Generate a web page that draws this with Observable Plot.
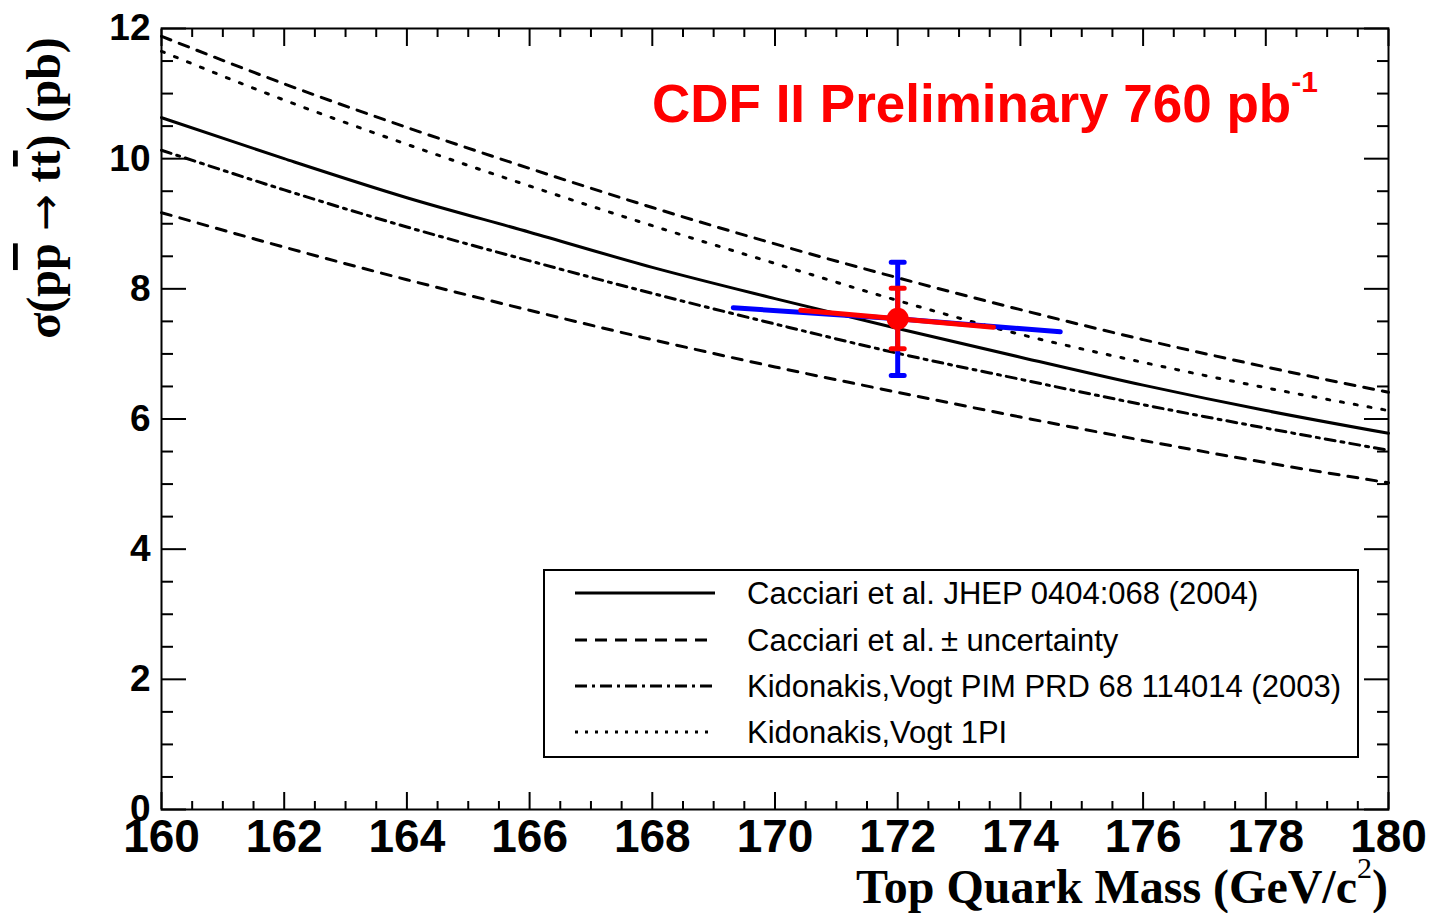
<!DOCTYPE html>
<html><head><meta charset="utf-8">
<script src="https://cdn.jsdelivr.net/npm/d3@7"></script>
<script src="https://cdn.jsdelivr.net/npm/@observablehq/plot@0.6"></script>
<style>html,body{margin:0;padding:0;background:#fff;} #chart svg{display:block;overflow:visible;}</style>
</head><body><div id="chart"></div>
<script>
// ---- data ----
const mass = [160, 162, 164, 166, 168, 170, 172, 174, 176, 178, 180];
const cacciari     = [10.63, 10.00, 9.40, 8.87, 8.33, 7.85, 7.39, 6.95, 6.52, 6.13, 5.78];
const cacciariUp   = [11.88, 11.15, 10.48, 9.85, 9.25, 8.69, 8.17, 7.68, 7.22, 6.80, 6.41];
const cacciariDown = [9.17, 8.64, 8.14, 7.67, 7.22, 6.80, 6.41, 6.03, 5.67, 5.33, 5.02];
const kidonakisPIM = [10.13, 9.52, 8.95, 8.43, 7.93, 7.46, 7.01, 6.61, 6.22, 5.86, 5.52];
const kidonakis1PI = [11.65, 10.90, 10.22, 9.58, 8.97, 8.39, 7.82, 7.30, 6.87, 6.48, 6.13];

const legendLabels = [
  "Cacciari et al. JHEP 0404:068 (2004)",
  "Cacciari et al.\u2009\u00b1 uncertainty",
  "Kidonakis,Vogt PIM PRD 68 114014 (2003)",
  "Kidonakis,Vogt 1PI"
];

// measurement
const measMass = [172];
const measXsec = [7.54];
const statXsecLo = [7.08], statXsecHi = [8.01];
const totXsecLo = [6.67], totXsecHi = [8.41];
const statMassBar = [170.42, 172, 173.56], statMassXsec = [7.67, 7.54, 7.41];
const totMassBar = [169.32, 172, 174.65], totMassXsec = [7.71, 7.54, 7.34];

// ticks
const xMajor = [160, 162, 164, 166, 168, 170, 172, 174, 176, 178, 180];
const yMajor = [0, 2, 4, 6, 8, 10, 12];
const xMinor = d3.range(160, 180.001, 0.5).filter(v => v % 2 !== 0);
const yMinor = d3.range(0, 12.001, 0.5).filter(v => v % 2 !== 0);

// ---- build tables ----
const toRows = ys => mass.map((m, i) => ({m, s: ys[i]}));
const meas = measMass.map((m, i) => ({m, s: measXsec[i], sLo: statXsecLo[i], sHi: statXsecHi[i], tLo: totXsecLo[i], tHi: totXsecHi[i]}));
const statH = statMassBar.map((m, i) => ({m, s: statMassXsec[i]}));
const totH = totMassBar.map((m, i) => ({m, s: totMassXsec[i]}));

const styles = [
  {data: cacciari, dash: null},
  {data: cacciariUp, dash: "10 9"},
  {data: cacciariDown, dash: "10 9"},
  {data: kidonakisPIM, dash: "10 6 3 6"},
  {data: kidonakis1PI, dash: "3 11"}
];
const legendDash = [null, "12 8", "12 5 3 5", "3 7"];

const BLUE = "#0000ff", RED = "#ff0000";

const chart = Plot.plot({
  width: 1433, height: 913,
  marginLeft: 161, marginRight: 45, marginTop: 28, marginBottom: 104,
  x: {domain: [160, 180], label: null},
  y: {domain: [0, 12], label: null},
  style: {background: "white", fontFamily: "Liberation Sans, Arial, sans-serif", color: "black"},
  marks: [
    // curves
    ...styles.map(st => Plot.line(toRows(st.data), {x: "m", y: "s", stroke: "black", strokeWidth: 3, strokeDasharray: st.dash, curve: "monotone-x"})),
    // total error bars (blue)
    Plot.line(totH, {x: "m", y: "s", stroke: BLUE, strokeWidth: 5}),
    Plot.ruleX(meas, {x: "m", y1: "tLo", y2: "tHi", stroke: BLUE, strokeWidth: 5}),
    Plot.vector(meas, {x: "m", y: "tHi", length: 13, rotate: 90, anchor: "middle", shape: "spike", stroke: BLUE, strokeWidth: 5, r: 0}),
    Plot.vector(meas, {x: "m", y: "tLo", length: 13, rotate: 90, anchor: "middle", shape: "spike", stroke: BLUE, strokeWidth: 5, r: 0}),
    // stat error bars (red)
    Plot.line(statH, {x: "m", y: "s", stroke: RED, strokeWidth: 5}),
    Plot.ruleX(meas, {x: "m", y1: "sLo", y2: "sHi", stroke: RED, strokeWidth: 5}),
    Plot.vector(meas, {x: "m", y: "sHi", length: 13, rotate: 90, anchor: "middle", shape: "spike", stroke: RED, strokeWidth: 5, r: 0}),
    Plot.vector(meas, {x: "m", y: "sLo", length: 13, rotate: 90, anchor: "middle", shape: "spike", stroke: RED, strokeWidth: 5, r: 0}),
    Plot.dot(meas, {x: "m", y: "s", r: 11, fill: RED, stroke: "none"}),
    // frame
    Plot.frame({stroke: "black", strokeWidth: 2}),
    // inward ticks, all four sides
    Plot.axisX({anchor: "bottom", ticks: xMajor, tickSize: -17, fill: "none", stroke: "black", strokeWidth: 2}),
    Plot.axisX({anchor: "bottom", ticks: xMinor, tickSize: -8, fill: "none", stroke: "black", strokeWidth: 2}),
    Plot.axisX({anchor: "top", ticks: xMajor, tickSize: -17, fill: "none", stroke: "black", strokeWidth: 2}),
    Plot.axisX({anchor: "top", ticks: xMinor, tickSize: -8, fill: "none", stroke: "black", strokeWidth: 2}),
    Plot.axisY({anchor: "left", ticks: yMajor, tickSize: -25, fill: "none", stroke: "black", strokeWidth: 2}),
    Plot.axisY({anchor: "left", ticks: yMinor, tickSize: -12, fill: "none", stroke: "black", strokeWidth: 2}),
    Plot.axisY({anchor: "right", ticks: yMajor, tickSize: -25, fill: "none", stroke: "black", strokeWidth: 2}),
    Plot.axisY({anchor: "right", ticks: yMinor, tickSize: -12, fill: "none", stroke: "black", strokeWidth: 2}),
    // tick labels
    Plot.axisX({anchor: "bottom", ticks: xMajor, tickSize: 0, tickPadding: 10, fontSize: 46, fontWeight: "bold", fill: "black", stroke: "none", label: null}),
    Plot.axisY({anchor: "left", ticks: yMajor, tickSize: 0, tickPadding: 11, fontSize: 37, fontWeight: "bold", fill: "black", stroke: "none", label: null})
  ]
});

document.getElementById("chart").appendChild(chart);
const svg = d3.select(chart);

// Title
const title = svg.append("text")
  .attr("x", 652).attr("y", 122).attr("text-anchor", "start")
  .attr("fill", RED).attr("font-family", "Liberation Sans, Arial, sans-serif")
  .attr("font-weight", "bold").attr("font-size", 53);
title.append("tspan").text("CDF II Preliminary 760 pb");
title.append("tspan").attr("font-size", 30).attr("dy", -30).text("-1");

// Y axis title (rotated)
const ylab = svg.append("text")
  .attr("transform", "translate(60,188) rotate(-90)")
  .attr("text-anchor", "middle")
  .attr("font-family", "Liberation Serif, Times New Roman, serif")
  .attr("font-weight", "bold").attr("font-size", 48).attr("fill", "black");
ylab.append("tspan").text("\u03c3(p");
ylab.append("tspan").style("text-decoration", "overline").text("p");
ylab.append("tspan").text(" ");
ylab.append("tspan").attr("font-family", "DejaVu Sans, sans-serif").attr("font-weight", "normal").attr("font-size", 44).text("\u2192");
ylab.append("tspan").text(" t");
ylab.append("tspan").style("text-decoration", "overline").text("t");
ylab.append("tspan").text(") (pb)");

// X axis title
const xlab = svg.append("text")
  .attr("x", 1388).attr("y", 903)
  .attr("text-anchor", "end")
  .attr("font-family", "Liberation Serif, Times New Roman, serif")
  .attr("font-weight", "bold").attr("font-size", 48).attr("fill", "black");
xlab.append("tspan").text("Top Quark Mass (GeV/c");
xlab.append("tspan").attr("font-size", 30).attr("font-weight", "normal").attr("dy", -25).text("2");
xlab.append("tspan").attr("dy", 25).text(")");

// Legend
const lg = svg.append("g");
lg.append("rect").attr("x", 544).attr("y", 570).attr("width", 814).attr("height", 187)
  .attr("fill", "white").attr("stroke", "black").attr("stroke-width", 2);
const rowY = [593, 640, 686, 732];
legendLabels.forEach((lab, i) => {
  lg.append("line").attr("x1", 575).attr("x2", 715).attr("y1", rowY[i]).attr("y2", rowY[i])
    .attr("stroke", "black").attr("stroke-width", 3)
    .attr("stroke-dasharray", legendDash[i]);
  lg.append("text").attr("x", 747).attr("y", rowY[i] + 11).attr("text-anchor", "start")
    .attr("font-family", "Liberation Sans, Arial, sans-serif").attr("font-size", 31)
    .attr("fill", "black").text(lab);
});
</script>
</body></html>
